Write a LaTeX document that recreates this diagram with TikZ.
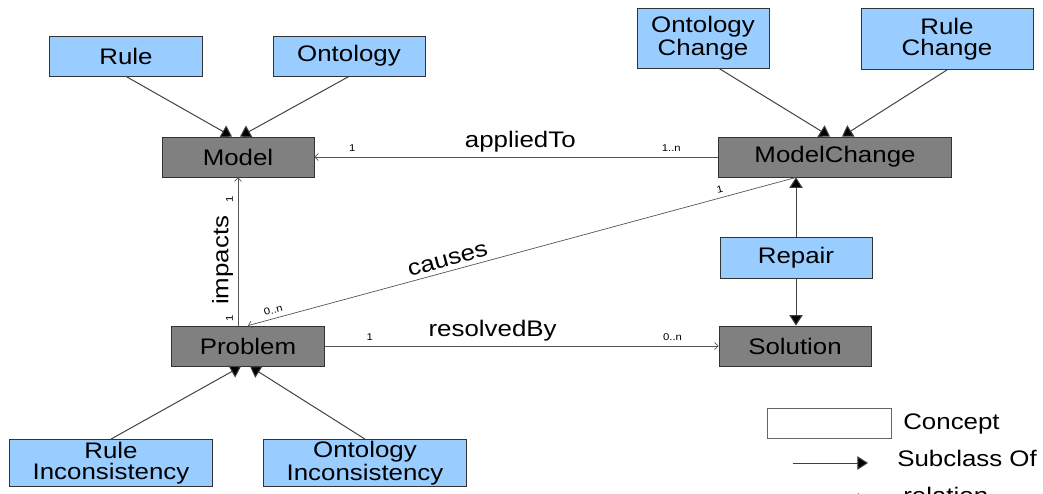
\documentclass[tikz,border=0pt]{standalone}
\usepackage{fontspec}
\setmainfont{Liberation Sans}[FakeStretch=1.15]
\usepackage{tikz}
\usetikzlibrary{arrows.meta,calc}
\newcommand{\pxu}{0.025cm}
\definecolor{conceptblue}{RGB}{153, 204, 255}
\definecolor{conceptgray}{RGB}{128, 128, 128}
\definecolor{edgegray}{RGB}{85, 85, 85}
\tikzstyle{concept}=[rectangle, draw=black!80, line width=0.6pt, fill=conceptblue, text centered, align=center, inner sep=0pt, font=\fontsize{16}{14.5}\selectfont]
\tikzstyle{core}=[concept, fill=conceptgray]
\tikzstyle{subclass}=[draw=black!75, line width=0.7pt, -{Triangle[length=7.5pt, width=9.5pt, fill=black]}]
\tikzstyle{relation}=[draw=edgegray, line width=0.5pt, -{Straight Barb[length=2.5pt, width=5pt]}]
\tikzstyle{mult}=[font=\fontsize{7}{8}\selectfont, above]
\tikzstyle{rolename}=[font=\fontsize{16}{14}\selectfont, above]
\tikzstyle{legendtext}=[anchor=base west, inner sep=0pt, font=\fontsize{16}{14}\selectfont]

\begin{document}
\begin{tikzpicture}[x=\pxu, y=-\pxu]
      %
      \path[use as bounding box] (0,0) rectangle (1043,493);
      %
      % Rule*, Ontology* --> Model
      %
      \path node[concept, minimum width=153*\pxu, minimum height=40*\pxu] (rule) at (126,56) {Rule};
      \path node[concept, minimum width=152*\pxu, minimum height=40*\pxu] (ontology) at (349,56) {Ontology};
      \path node[core, minimum width=152*\pxu, minimum height=40*\pxu] (model) at (238,157) {Model};
      \path [subclass] (rule.south) -- ($(model.north)+(-6,0)$);
      \path [subclass] (ontology.south) -- ($(model.north)+(2,0)$);
      %
      % Ontology Change*, Rule Change* --> ModelChange
      %
      \path node[concept, minimum width=132*\pxu, minimum height=60*\pxu] (ontchange) at (703,38) {Ontology\\Change};
      \path node[concept, minimum width=172*\pxu, minimum height=61*\pxu] (rulechange) at (947,39) {Rule\\Change};
      \path node[core, minimum width=233*\pxu, minimum height=40*\pxu] (modelchange) at (835,157) {ModelChange};
      \path [subclass] ($(ontchange.south)+(16,0)$) -- ($(modelchange.north)+(-5,0)$);
      \path [subclass] (rulechange.south) -- ($(modelchange.north)+(7,0)$);
      %
      % Repair --> ModelChange, Solution
      %
      \path node[concept, minimum width=152*\pxu, minimum height=41*\pxu] (repair) at (796,258) {Repair};
      \path node[core, minimum width=152*\pxu, minimum height=40*\pxu] (solution) at (795,346) {Solution};
      \coordinate (mcfoot) at (repair.north |- modelchange.south);
      \path [subclass] (repair.north) -- (mcfoot);
      \path [subclass] (repair.south) -- (repair.south |- solution.north);
      %
      % Rule/Ontology Inconsistency* --> Problem
      %
      \path node[core, minimum width=153*\pxu, minimum height=40*\pxu] (problem) at (248,346) {Problem};
      \path node[concept, minimum width=203*\pxu, minimum height=47*\pxu] (ruleinc) at (111,463) {Rule\\Inconsistency};
      \path node[concept, minimum width=203*\pxu, minimum height=47*\pxu] (ontinc) at (365,463) {Ontology\\Inconsistency};
      \path [subclass] (ruleinc.north) -- ($(problem.south)+(-7,0)$);
      \path [subclass] (ontinc.north) -- ($(problem.south)+(2,0)$);
      %
      % relations
      %
      \path [relation] (modelchange.west) -- node[mult, pos=0.116] {1..n}
        node[rolename, pos=0.49] {appliedTo} node[mult, pos=0.906] {1} (model.east);
      \path [relation] (problem.east) -- node[mult, pos=0.114] {1}
        node[rolename, pos=0.426] {resolvedBy} node[mult, pos=0.883] {0..n} (solution.west);
      \path [relation] (problem.north -| model.south) -- node[mult, sloped, pos=0.05] {1}
        node[rolename, sloped, pos=0.44] {impacts} node[mult, sloped, pos=0.85] {1} (model.south);
      \path [relation] (mcfoot) -- node[mult, sloped, pos=0.135] {1}
        node[rolename, sloped, pos=0.63] {causes} node[mult, sloped, pos=0.95] {0..n} (problem.north);
      %
      % legend
      %
      \path node[draw=black!60, fill=white, line width=0.6pt, minimum width=124*\pxu, minimum height=30*\pxu] (legconcept) at (829,423) {};
      \path node[legendtext] (legconcepttext) at (903,429) {Concept};
      \coordinate (subfrom) at (793,463);
      \coordinate (subto) at (868,463);
      \path [subclass] (subfrom) -- (subto);
      \path node[legendtext] (legsubtext) at (897,466) {Subclass Of};
      \coordinate (relfrom) at (793,497);
      \coordinate (relto) at (862,497);
      \path [relation] (relfrom) -- (relto);
      \path node[legendtext] (legreltext) at (903,503) {relation};
      %
    \end{tikzpicture}
\end{document}
